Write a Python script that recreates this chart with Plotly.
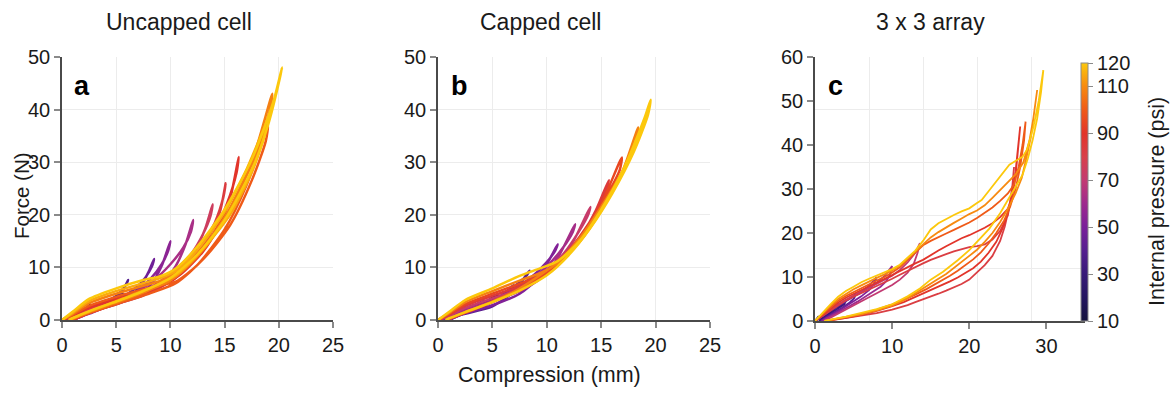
import plotly.graph_objects as go
from plotly.colors import sample_colorscale

# ---------------- data ----------------
PANEL_TITLES = ["Uncapped cell", "Capped cell", "3 x 3 array"]
PANEL_LETTERS = ["a", "b", "c"]
X_LABEL = "Compression (mm)"
Y_LABEL = "Force (N)"
CBAR_LABEL = "Internal pressure (psi)"
CBAR_TICKS = [10, 30, 50, 70, 90, 110, 120]
P_MIN, P_MAX = 10, 120

# colour scale sampled from the reference colour bar (10 -> 120 psi)
COLORSCALE = [
    [0.000, "#14133d"], [0.091, "#241660"], [0.182, "#381a78"],
    [0.273, "#55208f"], [0.364, "#7a1f9a"], [0.455, "#9e2a8e"],
    [0.545, "#c23a72"], [0.636, "#d8404a"], [0.727, "#e2342a"],
    [0.818, "#ef5a18"], [0.909, "#f78a10"], [1.000, "#fcc80c"],
]

# Panel a: uncapped cell  (loading then unloading, (mm, N))
A_PRESSURE = [15, 22, 30, 40, 47, 55, 63, 75, 83, 90, 100, 108, 115, 120]
A_LOOPS = [
    [(0, 0), (0.8, 0.7), (1.6, 1.5), (2.2, 2.2), (2.6, 2.9), (2.4, 2.4), (1.9, 1.7), (1.3, 0.7), (1.0, 0)],
    [(0, 0), (1, 0.6), (2, 1.4), (3, 2.3), (3.6, 3.0), (4.0, 3.7), (3.8, 3.2), (3.2, 2.5), (2.4, 1.6), (1.6, 0.8), (1.1, 0)],
    [(0, 0), (1, 0.5), (2.5, 1.6), (4, 2.8), (5, 3.9), (5.6, 5.0), (5.4, 4.4), (4.6, 3.4), (3.4, 2.3), (2.2, 1.2), (1.2, 0.2), (1.0, 0)],
    [(0, 0), (1, 0.5), (2.5, 1.7), (4, 2.9), (5, 4.1), (5.6, 5.6), (6.1, 7.6), (5.9, 6.7), (5.3, 5.1), (4.3, 3.6), (3, 2.2), (1.8, 1.0), (1.1, 0.1), (1.0, 0)],
    [(0, 0), (1, 0.5), (2.5, 1.5), (4.5, 2.8), (6.3, 4.5), (7.4, 7.0), (8.0, 9.2), (8.5, 11.6), (8.3, 10.2), (7.7, 8.1), (6.8, 6.1), (5.3, 4.0), (3.5, 2.2), (1.8, 0.8), (1.1, 0.1), (1.0, 0)],
    [(0, 0), (1, 0.5), (2.5, 1.5), (5, 3.0), (7, 4.6), (8.3, 7.0), (9.2, 10.3), (10, 15), (9.8, 13.2), (9.2, 10.6), (8.2, 7.9), (6.8, 5.3), (4.8, 3.1), (2.5, 1.2), (1.1, 0.1), (1.0, 0)],
    [(0, 0), (1, 0.6), (2.5, 1.7), (5, 3.1), (7.5, 4.7), (9.3, 7.2), (10.5, 10.3), (11.4, 14.4), (12.1, 19), (11.9, 16.8), (11.2, 13.8), (10, 10.6), (8.5, 7.6), (6.5, 4.9), (4, 2.6), (2, 0.9), (1.1, 0.1), (1.0, 0)],
    [(0, 0), (1, 0.7), (2.5, 2.0), (5, 3.4), (7.5, 4.8), (9.5, 6.8), (11, 9.6), (12.3, 13.3), (13.2, 17.3), (13.9, 22), (13.7, 19.8), (13, 16.3), (12, 12.8), (10.5, 9.6), (8.5, 6.6), (6.5, 4.3), (4, 2.4), (2, 0.9), (1.1, 0.1), (1.0, 0)],
    [(0, 0), (1, 0.8), (2.5, 2.2), (5, 3.7), (7.5, 5.0), (9.5, 6.7), (11, 8.9), (12.5, 12.3), (13.8, 16.8), (14.6, 20.8), (15.1, 26), (14.9, 23.5), (14.1, 18.5), (13, 14.5), (11.5, 10.8), (9.5, 7.6), (7.5, 5.2), (5, 3.1), (2.5, 1.3), (1.2, 0.2), (1.0, 0)],
    [(0, 0), (1, 0.9), (2.5, 2.4), (5, 4.0), (7.5, 5.3), (9.5, 6.8), (11, 8.8), (13, 13.0), (14.5, 18.0), (15.5, 23.0), (16.3, 31.0), (16.1, 28), (15.2, 22), (14, 16.5), (12.5, 12), (10.5, 8.3), (8, 5.5), (5, 3.2), (2.5, 1.4), (1.2, 0.2), (1.0, 0)],
    [(0, 0), (1, 1.0), (2.5, 2.7), (5, 4.4), (7.5, 5.8), (9, 6.6), (10.5, 7.3), (12.5, 10.5), (15, 17.2), (17, 25.5), (19, 37), (18.8, 34), (17.5, 26.5), (15.5, 18), (13, 11.5), (10.5, 7), (8, 5), (5, 3), (2.5, 1.3), (1.1, 0.2), (0.9, 0)],
    [(0, 0), (1, 1.2), (2.5, 3.2), (5, 5.0), (7.5, 6.5), (9, 7.4), (10.5, 8.8), (12.5, 12.5), (15, 19.5), (17.5, 30), (19.4, 43), (19.2, 40), (18, 32), (16, 23), (14, 16), (12, 11), (10, 7.5), (7.5, 5.2), (5, 3.3), (2.5, 1.5), (1, 0.3), (0.8, 0)],
    [(0, 0), (1, 1.4), (2.5, 3.6), (5, 5.5), (7.5, 7.0), (9, 7.9), (10.5, 9.3), (12.5, 13.3), (15, 20.5), (17, 28.5), (18.8, 37), (18.6, 34.5), (17.5, 28), (15.5, 20), (13, 13.5), (10.5, 8.5), (8, 6), (5, 3.6), (2.5, 1.6), (1, 0.3), (0.7, 0)],
    [(0, 0), (1, 1.6), (2.5, 4.0), (5, 6.0), (7.5, 7.6), (9, 8.3), (10.5, 9.8), (12.5, 14.0), (15, 21.0), (17.5, 30.5), (19.5, 41.5), (20.3, 48.0), (20.1, 46), (19, 37), (17.5, 28.5), (15, 19), (12.5, 12.5), (10, 8.0), (7.5, 5.5), (5, 3.5), (2.5, 1.7), (1.0, 0.4), (0.6, 0)],
]

# Panel b: capped cell
B_PRESSURE = [12, 20, 30, 42, 52, 62, 72, 85, 95, 108, 120]
B_LOOPS = [
    [(0, 0), (1, 0.6), (2.5, 1.8), (4.2, 3.6), (4.0, 3.1), (3.2, 2.3), (2.0, 1.1), (1.0, 0)],
    [(0, 0), (1, 0.5), (2.5, 1.6), (4, 3.0), (5.5, 4.8), (5.3, 4.3), (4.5, 3.4), (3.3, 2.2), (2, 1.0), (1.0, 0)],
    [(0, 0), (1, 0.5), (2.5, 1.5), (4.5, 3.0), (6, 4.8), (6.9, 6.6), (6.7, 6.0), (6, 4.8), (4.8, 3.3), (3.5, 2.1), (2, 0.9), (1.0, 0)],
    [(0, 0), (1, 0.4), (2.5, 1.2), (5, 2.6), (7, 5.5), (8.4, 9.4), (8.2, 8.6), (7.5, 7.2), (6, 4.9), (4.5, 3.2), (3, 1.9), (1.5, 0.6), (1.0, 0)],
    [(0, 0), (1, 0.4), (2.5, 1.3), (5, 2.8), (7.5, 5.0), (9.3, 8.2), (11, 14.4), (10.8, 13.3), (10, 11), (8.5, 8), (6.5, 5.3), (4.5, 3.2), (2.5, 1.4), (1, 0.1), (0.9, 0)],
    [(0, 0), (1, 0.6), (2.5, 1.9), (5, 3.6), (7.5, 5.5), (9.5, 8.0), (11, 11.8), (12.6, 18.2), (12.4, 16.8), (11.5, 13.8), (10, 10.2), (8, 7.0), (6, 4.6), (4, 2.6), (2, 1.0), (1, 0.1), (0.9, 0)],
    [(0, 0), (1, 0.8), (2.5, 2.3), (5, 4.1), (7.5, 5.9), (9.5, 8.1), (11, 10.9), (12.5, 15.2), (14, 21.5), (13.8, 20), (13, 17), (11.5, 12.5), (10, 9.6), (8, 6.8), (6, 4.5), (4, 2.6), (2, 1), (1, 0.1), (0.8, 0)],
    [(0, 0), (1, 1.0), (2.5, 2.7), (5, 4.6), (7.5, 6.4), (9.5, 8.3), (11, 10.8), (13, 15.5), (14.5, 20.8), (15.7, 26.6), (15.5, 24.8), (14.5, 20.5), (13, 15.8), (11.5, 12), (9.5, 8.5), (7.5, 6), (5, 3.5), (2.5, 1.4), (1, 0.2), (0.8, 0)],
    [(0, 0), (1, 1.1), (2.5, 3.0), (5, 5.0), (7.5, 6.9), (9.5, 8.6), (11, 10.8), (13, 15.2), (15, 22), (16.9, 30.9), (16.7, 28.5), (15.5, 23.5), (14, 18), (12, 12.8), (10, 9), (8, 6.2), (5, 3.4), (2.5, 1.4), (1, 0.2), (0.8, 0)],
    [(0, 0), (1, 1.3), (2.5, 3.4), (5, 5.5), (7.5, 7.5), (9.5, 9.0), (11, 10.8), (13, 14.8), (15, 20.8), (17, 28.5), (18.4, 36.6), (18.2, 34), (17, 28.5), (15, 21.5), (13, 15.5), (11, 11), (9, 8), (7, 5.4), (5, 3.5), (2.5, 1.5), (1, 0.3), (0.7, 0)],
    [(0, 0), (1, 1.5), (2.5, 3.8), (5, 6.0), (7.5, 8.4), (9.5, 9.9), (11, 11.2), (13, 15.0), (15, 21.0), (17, 28.5), (19, 38.5), (19.55, 41.9), (19.3, 39), (18, 32), (16, 24), (14, 17.5), (12, 12.3), (10, 8.5), (7.5, 5.6), (5, 3.4), (2.5, 1.5), (1, 0.3), (0.7, 0)],
]

# Panel c: 3 x 3 array
C_PRESSURE = [10, 22, 32, 42, 50, 60, 70, 82, 90, 100, 110, 120]
C_LOOPS = [
    [(0, 0), (0.3, 0.6), (0.5, 1.1), (0.3, 0.6), (0.1, 0)],
    [(0, 0), (1, 1.1), (2, 2.2), (2.5, 2.8), (2.2, 2.2), (1.5, 1.3), (0.8, 0.4), (0.5, 0)],
    [(0, 0), (1, 1.1), (2, 2.3), (3, 3.4), (4, 4.5), (3.8, 3.8), (3, 2.8), (2, 1.7), (1, 0.6), (0.6, 0)],
    [(0, 0), (1, 1.2), (2, 2.4), (3, 3.5), (4, 4.6), (5, 5.7), (5.3, 6.2), (5.1, 5.2), (4.5, 4.2), (3.5, 3.0), (2.5, 2.0), (1.5, 0.9), (0.8, 0)],
    [(0, 0), (1, 1.2), (2, 2.4), (3, 3.5), (4, 4.5), (5, 5.5), (6, 6.6), (7, 8), (8, 10), (7.7, 8.5), (7, 7), (6, 5.6), (5, 4.4), (4, 3.3), (3, 2.2), (2, 1.2), (1, 0.3), (0.8, 0)],
    [(0, 0), (1, 1.3), (2, 2.6), (3, 3.7), (4, 4.7), (5, 5.6), (6, 6.6), (7, 7.6), (8, 8.7), (9, 10.2), (10, 12.5), (9.7, 10.5), (9.2, 9), (8.5, 7.8), (7.5, 6.6), (6.5, 5.5), (5.5, 4.4), (4.5, 3.4), (3.5, 2.4), (2.5, 1.5), (1.5, 0.6), (1, 0)],
    [(0, 0), (1, 1.3), (2, 2.6), (3, 3.8), (4, 4.8), (5, 5.7), (6, 6.6), (7, 7.5), (8, 8.4), (9, 9.3), (10, 10.3), (11, 11.6), (12, 13.3), (13, 15.5), (13.6, 17.7),
     (13.3, 15.5), (12.8, 13), (12, 11), (11, 9.4), (10, 8.2), (9, 7.2), (8, 6.3), (7, 5.4), (6, 4.5), (5, 3.6), (4, 2.7), (3, 1.8), (2, 0.9), (1.2, 0)],
    [(0, 0), (1, 1.2), (2, 2.5), (3, 3.7), (4, 4.7), (5, 5.5), (6, 6.3), (7, 7.1), (8, 7.9), (9, 8.7), (10, 9.6), (11, 10.5), (12, 11.4), (13, 12.3), (14, 13.1), (15, 13.9),
     (16, 14.6), (17, 15.2), (18, 15.8), (19, 16.3), (20, 16.8), (21, 17.0), (22, 17.4), (23, 18.5), (24, 20.5), (25, 24), (25.5, 29), (25.8, 35),
     (25.6, 31), (25.2, 26), (24.6, 21.5), (24, 18.2), (23, 14.8), (22, 12.7), (21, 11), (20, 9.4), (19, 8.4), (18, 7.6), (17, 6.9), (16, 6.2), (15, 5.6), (14, 5.0),
     (13, 4.3), (12, 3.6), (10, 2.6), (8, 1.8), (6, 1.2), (4, 0.6), (2, 0.1), (1.5, 0)],
    [(0, 0), (1, 1.4), (2, 2.9), (3, 4.2), (4, 5.3), (5, 6.2), (6, 7.0), (7, 7.9), (8, 8.7), (9, 9.6), (10, 10.5), (11, 11.4), (12, 12.3), (13, 13.1), (14, 13.9), (15, 15.0),
     (16, 16.0), (17, 17.0), (18, 17.9), (19, 18.8), (20, 19.5), (21, 20.3), (22, 21.2), (23, 22.2), (24, 23.6), (25, 25.5), (25.6, 28.5), (26, 33), (26.3, 38.5), (26.6, 44.2),
     (26.4, 40), (26, 34), (25.5, 28.5), (25, 24.5), (24.3, 21), (23.5, 18), (22.5, 15.5), (21.5, 13.5), (20.5, 12.0), (19.5, 10.9), (18.5, 9.9), (17.5, 9.0), (16, 7.8),
     (14.5, 6.6), (13, 5.4), (11.5, 4.3), (10, 3.4), (8, 2.3), (6, 1.4), (4, 0.7), (2, 0.2), (1.5, 0)],
    [(0, 0), (1, 1.6), (2, 3.2), (3, 4.6), (4, 5.7), (5, 6.6), (6, 7.4), (7, 8.3), (8, 9.2), (9, 10), (10, 11), (11, 12.2), (12, 13.8), (13, 15.6), (14, 17.2), (15, 18.2),
     (16, 19.1), (17, 19.9), (18, 20.7), (19, 21.5), (20, 22.4), (21, 23.4), (22, 24.5), (23, 25.8), (24, 27.3), (25, 29), (25.8, 31), (26.4, 35), (26.9, 40), (27.3, 45.3),
     (27.1, 41), (26.6, 35), (26, 30), (25.3, 26), (24.5, 22.8), (23.5, 20), (22.5, 17.6), (21.5, 15.6), (20.5, 14.0), (19.5, 12.6), (18.5, 11.4), (17.5, 10.3), (16, 8.8),
     (14.5, 7.3), (13, 6), (11.5, 4.8), (10, 3.8), (8, 2.6), (6, 1.6), (4, 0.9), (2, 0.3), (1.4, 0)],
    [(0, 0), (1, 1.8), (2, 3.5), (3, 5), (4, 6.2), (5, 7.2), (6, 8.1), (7, 9), (8, 9.8), (9, 10.6), (10, 11.5), (11, 12.6), (12, 14.2), (13, 16), (14, 17.6), (15, 19),
     (16, 20.2), (17, 21.3), (18, 22.3), (19, 23.3), (20, 24.3), (21, 25.1), (22, 26.3), (23, 28), (24, 29.8), (25, 31.5), (26, 33.3), (27, 36), (27.8, 41), (28.3, 46), (28.8, 52.5),
     (28.5, 48), (28, 42), (27.4, 37), (26.8, 32.5), (26, 29), (25, 25.5), (24, 22.5), (23, 20), (22, 18), (21, 16.2), (20, 14.8), (19, 13.4), (18, 12), (17, 10.7), (16, 9.6),
     (15, 8.5), (14, 7.3), (13, 6.2), (12, 5.2), (11, 4.3), (10, 3.5), (8, 2.4), (6, 1.5), (4, 0.9), (2, 0.2), (1.3, 0)],
    [(0, 0), (1, 2), (2, 3.8), (3, 5.5), (4, 6.8), (5, 7.8), (6, 8.8), (7, 9.6), (8, 10.3), (9, 11.0), (10, 11.8), (11, 12.8), (12, 14.3), (13, 16), (14, 18.2), (15, 20.8),
     (16, 22.2), (17, 23.2), (18, 24.1), (19, 24.9), (20, 25.6), (21, 26.8), (21.6, 27.5), (22.5, 29.5), (23.5, 31.7), (24.4, 33.8), (25.2, 35.5), (26.2, 36.6), (26.9, 37.3),
     (27.5, 39), (28.3, 44), (29, 50), (29.6, 57),
     (29.3, 52), (28.8, 46), (28.2, 41), (27.6, 37), (26.9, 33.2), (26, 30.5), (25.2, 27.9), (24, 24.5), (22.6, 21), (21, 18), (20, 16.1), (18.5, 13.8), (16.6, 11.2),
     (15, 9.4), (13.6, 7.4), (12, 5.6), (10, 3.8), (8, 2.7), (6, 1.8), (4, 1.0), (2, 0.3), (1.2, 0)],
]

# ---------------- figure ----------------
W, H = 1172, 416
FONT = "Liberation Sans, Arial, Helvetica, sans-serif"
TXT = "#1a1a1a"


def fx(p):
    return p / W


def fy(p):
    return 1 - p / H


def pcolor(p):
    return sample_colorscale(COLORSCALE, [(p - P_MIN) / (P_MAX - P_MIN)])[0]


fig = go.Figure()

panels = [
    (A_PRESSURE, A_LOOPS, "x", "y", 2.5, "spline"),
    (B_PRESSURE, B_LOOPS, "x2", "y2", 2.5, "spline"),
    (C_PRESSURE, C_LOOPS, "x3", "y3", 1.8, "linear"),
]
for press, loops, xa, ya, lw, shape in panels:
    for p, loop in zip(press, loops):
        fig.add_trace(go.Scatter(
            x=[pt[0] for pt in loop], y=[pt[1] for pt in loop],
            mode="lines", xaxis=xa, yaxis=ya,
            line=dict(color=pcolor(p), width=lw, shape=shape, smoothing=0.7),
            showlegend=False, hoverinfo="skip",
        ))

# colour bar carrier (no visible marks)
fig.add_trace(go.Scatter(
    x=[None], y=[None], mode="markers", xaxis="x3", yaxis="y3", showlegend=False,
    marker=dict(color=[P_MIN], cmin=P_MIN, cmax=P_MAX, colorscale=COLORSCALE, showscale=True,
                colorbar=dict(x=fx(1081), xanchor="left", xpad=0, ypad=0,
                              y=fy(192), yanchor="middle", lenmode="pixels", len=258,
                              thicknessmode="pixels", thickness=7,
                              outlinewidth=1, outlinecolor="#8a8a8a",
                              tickmode="array", tickvals=CBAR_TICKS,
                              ticks="outside", ticklen=5, tickcolor="#8a8a8a",
                              tickfont=dict(size=20, color=TXT, family=FONT))),
))

GRID = "#ececec"
LINE = "#4a4a4a"
common = dict(showline=True, linecolor=LINE, linewidth=1.5, ticks="outside", ticklen=6,
              tickcolor="#8a8a8a", tickwidth=1.5, zeroline=False, automargin=False,
              tickfont=dict(size=20, color=TXT, family=FONT), mirror=False)

ydom = [fy(320), fy(57)]
fig.update_layout(
    template="none",
    width=W, height=H, margin=dict(l=0, r=0, t=0, b=0, autoexpand=False),
    paper_bgcolor="white", plot_bgcolor="white",
    font=dict(family=FONT, color=TXT),
    xaxis=dict(domain=[fx(62), fx(333)], range=[0, 25], tickvals=[0, 5, 10, 15, 20, 25], anchor="y",
               showgrid=True, gridcolor=GRID, gridwidth=1, **common),
    yaxis=dict(domain=ydom, range=[0, 50], tickvals=[0, 10, 20, 30, 40, 50], anchor="x",
               showgrid=True, gridcolor=GRID, gridwidth=1, **common),
    xaxis2=dict(domain=[fx(438), fx(710)], range=[0, 25], tickvals=[0, 5, 10, 15, 20, 25], anchor="y2",
                showgrid=True, gridcolor=GRID, gridwidth=1, **common),
    yaxis2=dict(domain=ydom, range=[0, 50], tickvals=[0, 10, 20, 30, 40, 50], anchor="x2",
                showgrid=True, gridcolor=GRID, gridwidth=1, **common),
    xaxis3=dict(domain=[fx(815), fx(1085)], range=[0, 35], tickvals=[0, 10, 20, 30], anchor="y3",
                showgrid=False, minor=dict(tick0=0, dtick=7, showgrid=True, gridcolor=GRID, ticklen=0),
                **common),
    yaxis3=dict(domain=[fy(321), fy(57)], range=[0, 60], tickvals=[0, 10, 20, 30, 40, 50, 60], anchor="x3",
                showgrid=False, minor=dict(tick0=0, dtick=12, showgrid=True, gridcolor=GRID, ticklen=0),
                **common),
)

ann = []
for title, cx in zip(PANEL_TITLES, [179, 540, 930]):
    ann.append(dict(text=title, x=fx(cx), y=fy(22), xref="paper", yref="paper", showarrow=False,
                    xanchor="center", yanchor="middle", font=dict(size=23, color=TXT, family=FONT)))
for letter, cx in zip(PANEL_LETTERS, [82, 459, 835]):
    ann.append(dict(text="<b>%s</b>" % letter, x=fx(cx), y=fy(86), xref="paper", yref="paper",
                    showarrow=False, xanchor="center", yanchor="middle",
                    font=dict(size=27, color="#000000", family=FONT)))
ann.append(dict(text=X_LABEL, x=fx(549), y=fy(375), xref="paper", yref="paper", showarrow=False,
                xanchor="center", yanchor="middle", font=dict(size=21.5, color=TXT, family=FONT)))
ann.append(dict(text=Y_LABEL, x=fx(21), y=fy(196), xref="paper", yref="paper", showarrow=False,
                textangle=-90, xanchor="center", yanchor="middle", font=dict(size=20.5, color=TXT, family=FONT)))
ann.append(dict(text=CBAR_LABEL, x=fx(1157), y=fy(202), xref="paper", yref="paper", showarrow=False,
                textangle=-90, xanchor="center", yanchor="middle", font=dict(size=21.5, color=TXT, family=FONT)))
fig.update_layout(annotations=ann)

fig.write_html("out.html", config={"displayModeBar": False},
               post_script="document.body.style.margin='0px';")
